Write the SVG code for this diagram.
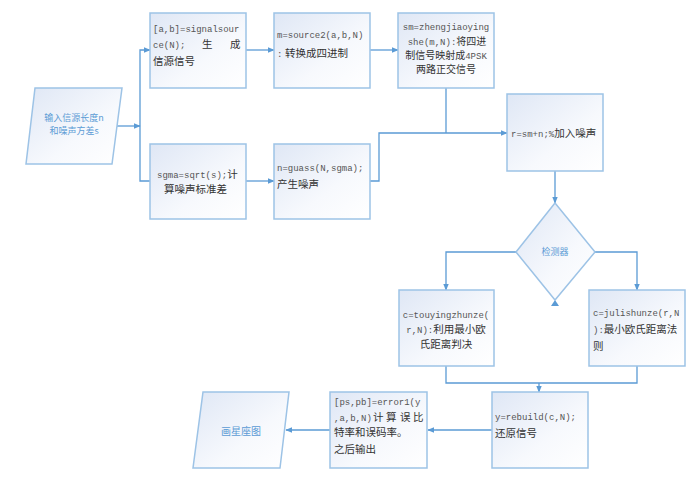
<svg xmlns="http://www.w3.org/2000/svg" width="692" height="485" viewBox="0 0 692 485">
<defs>
<linearGradient id="g" x1="0" y1="0" x2="1" y2="1">
<stop offset="0" stop-color="#dfe7f5"/>
<stop offset="0.6" stop-color="#f7f9fd"/>
<stop offset="1" stop-color="#ffffff"/>
</linearGradient>
<marker id="a" viewBox="0 0 10 10" refX="9" refY="5" markerWidth="7" markerHeight="7" markerUnits="userSpaceOnUse" orient="auto">
<path d="M0,1 L10,5 L0,9 Z" fill="#5b9bd5"/>
</marker>
<style>
.n{fill:url(#g);stroke:#9dc3e6;stroke-width:1.5}
.c{fill:none;stroke:#5b9bd5;stroke-width:1.3}
.t{font-family:"Liberation Mono","Noto Sans CJK SC",monospace;font-size:9px;fill:#555}
.z{font-family:"Noto Sans CJK SC",sans-serif;font-size:10.5px;fill:#333}
.b{font-family:"Noto Sans CJK SC",sans-serif;font-size:9px;fill:#5b9bd5}
</style>
</defs>
<rect width="692" height="485" fill="#fff"/>
<g id="connectors">
<path class="c" d="M117,126 H140" marker-end="url(#a)"/>
<path class="c" d="M140,126 V50 H150" marker-end="url(#a)"/>
<path class="c" d="M140,126 V181 H150"/>
<path class="c" d="M246,50 H274" marker-end="url(#a)"/>
<path class="c" d="M246,181 H274" marker-end="url(#a)"/>
<path class="c" d="M370,50 H398" marker-end="url(#a)"/>
<path class="c" d="M446,88 V133"/>
<path class="c" d="M370,181 H379 V133 H507" marker-end="url(#a)"/>
<path class="c" d="M555,171 V203" marker-end="url(#a)"/>
<path class="c" d="M516,252 H446 V290" marker-end="url(#a)"/>
<path class="c" d="M595,252 H637 V290" marker-end="url(#a)"/>
<path d="M551,306 L555,300 L559,306 Z" fill="#5b9bd5"/>
<path class="c" d="M446,366 V383 H637 V366"/>
<path class="c" d="M539,383 V392" marker-end="url(#a)"/>
<path class="c" d="M492,430 H428" marker-end="url(#a)"/>
<path class="c" d="M330,430 H286" marker-end="url(#a)"/>
</g>
<g id="input">
<polygon class="n" points="35,88 122,88 112,164 26,164"/>
<text class="b" x="74" y="121" text-anchor="middle">输入信源长度n</text>
<text class="b" x="74" y="134" text-anchor="middle">和噪声方差s</text>
</g>
<g id="signalsource">
<rect class="n" x="150" y="13" width="96" height="75"/>
<text class="t" x="153" y="32">[a,b]=signalsour</text>
<text class="t" x="153" y="48">ce(N);<tspan class="z" x="202">生</tspan><tspan class="z" x="230">成</tspan></text>
<text class="z" x="153" y="65">信源信号</text>
</g>
<g id="sgma">
<rect class="n" x="150" y="144" width="96" height="75"/>
<text class="t" x="157" y="178">sgma=sqrt(s);<tspan class="z">计</tspan></text>
<text class="z" x="164" y="193">算噪声标准差</text>
</g>
<g id="source2">
<rect class="n" x="274" y="13" width="96" height="75"/>
<text class="t" x="277" y="38">m=source2(a,b,N)</text>
<text class="t" x="277" y="57">:<tspan class="z" x="285">转换成四进制</tspan></text>
</g>
<g id="zhengjiao">
<rect class="n" x="398" y="13" width="96" height="75"/>
<text class="t" x="446" y="30" text-anchor="middle">sm=zhengjiaoying</text>
<text class="t" x="447" y="45" text-anchor="middle">she(m,N):<tspan class="z" style="font-size:10px">将四进</tspan></text>
<text class="t" x="446" y="59" text-anchor="middle"><tspan class="z" style="font-size:10px">制信号映射成</tspan>4PSK</text>
<text class="z" x="446" y="73" text-anchor="middle" style="font-size:10px">两路正交信号</text>
</g>
<g id="guass">
<rect class="n" x="274" y="144" width="96" height="75"/>
<text class="t" x="277" y="171">n=guass(N,sgma);</text>
<text class="z" x="277" y="188">产生噪声</text>
</g>
<g id="addnoise">
<rect class="n" x="507" y="94" width="96" height="77"/>
<text class="t" x="511" y="137">r=sm+n;%<tspan class="z">加入噪声</tspan></text>
</g>
<g id="detector">
<polygon class="n" points="555,203 595,252 555,300 516,252"/>
<text class="b" x="555" y="255" text-anchor="middle">检测器</text>
</g>
<g id="touying">
<rect class="n" x="399" y="290" width="95" height="76"/>
<text class="t" x="446" y="318" text-anchor="middle">c=touyingzhunze(</text>
<text class="t" x="446" y="333" text-anchor="middle">r,N):<tspan class="z">利用最小欧</tspan></text>
<text class="z" x="446" y="348" text-anchor="middle">氏距离判决</text>
</g>
<g id="julishunze">
<rect class="n" x="589" y="290" width="96" height="76"/>
<text class="t" x="593" y="316">c=julishunze(r,N</text>
<text class="t" x="593" y="333">):<tspan class="z">最小欧氏距离法</tspan></text>
<text class="z" x="593" y="350">则</text>
</g>
<g id="rebuild">
<rect class="n" x="492" y="392" width="96" height="76"/>
<text class="t" x="495" y="420">y=rebuild(c,N);</text>
<text class="z" x="495" y="437">还原信号</text>
</g>
<g id="error">
<rect class="n" x="330" y="392" width="97" height="76"/>
<text class="t" x="334" y="405">[ps,pb]=error1(y</text>
<text class="t" x="334" y="421">,a,b,N)<tspan class="z" x="373">计</tspan><tspan class="z" x="386">算</tspan><tspan class="z" x="400">误</tspan><tspan class="z" x="413">比</tspan></text>
<text class="z" x="334" y="436">特率和误码率。</text>
<text class="z" x="334" y="453">之后输出</text>
</g>
<g id="constellation">
<polygon class="n" points="203,392 289,392 280,468 193,468"/>
<text class="b" x="241" y="435" text-anchor="middle" style="font-size:10px">画星座图</text>
</g>
</svg>
